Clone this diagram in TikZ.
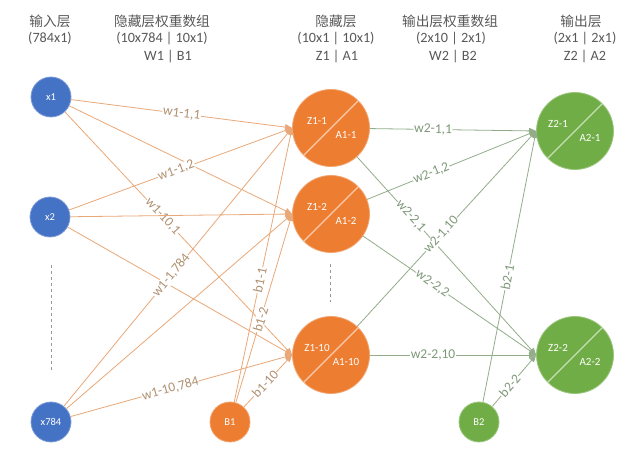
\documentclass[tikz,border=0pt]{standalone}
\usepackage{fontspec}
\setmainfont{Carlito}
\newfontfamily\cjk{Noto Sans CJK SC}
\usetikzlibrary{arrows.meta,calc}
\definecolor{cblue}{HTML}{4472C4}
\definecolor{corange}{HTML}{ED7D31}
\definecolor{cgreen}{HTML}{70AD47}
\definecolor{oline}{HTML}{E9A878}
\definecolor{gline}{HTML}{93AD8B}
\definecolor{otext}{HTML}{B09070}
\definecolor{gtext}{HTML}{7E9878}
\definecolor{odiag}{HTML}{F8CBAD}
\definecolor{gdiag}{HTML}{C5E0B4}
\definecolor{htext}{HTML}{595959}
\tikzset{
  inp/.style={circle,fill=cblue,draw=cblue!70!white,line width=0.8pt,minimum size=40pt,inner sep=0pt,text=white,font=\fontsize{10.5}{11}\selectfont},
  bias/.style={circle,fill=#1,draw=#1!70!white,line width=0.8pt,minimum size=40pt,inner sep=0pt,text=white,font=\fontsize{10.5}{11}\selectfont},
  neuron/.style={circle,fill=#1,draw=#1!70!white,line width=0.8pt,minimum size=77pt,inner sep=0pt},
  intxt/.style={text=white,font=\fontsize{11}{12}\selectfont,inner sep=0pt},
  odiagl/.style={draw=odiag,line width=1.3pt},
  gdiagl/.style={draw=gdiag,line width=1.3pt},
  oe/.style={draw=oline,line width=0.8pt,-{Triangle[length=7pt,width=6pt]}},
  ge/.style={draw=gline,line width=0.8pt,-{Triangle[length=7pt,width=6pt]}},
  olab/.style={fill=white,inner sep=0.6pt,text=otext,font=\fontsize{13.5}{14}\selectfont,sloped},
  glab/.style={fill=white,inner sep=0.6pt,text=gtext,font=\fontsize{13.5}{14}\selectfont,sloped},
  hcn/.style={text=htext,font=\cjk\fontsize{13.7}{15}\selectfont,inner sep=0pt},
  hlat/.style={text=htext,font=\fontsize{14.2}{15}\selectfont,inner sep=0pt},
  dots/.style={draw=gray!80,dashed,line width=0.8pt}
}
\begin{document}
\begin{tikzpicture}[x=1pt,y=-1pt]
\useasboundingbox[fill=white] (0,0) rectangle (641,457);
% headers
\node[hcn]  (h1a) at (50,21) {输入层};
\node[hlat] (h1b) at (50,38) {(784x1)};
\node[hcn]  (h2a) at (162,21) {隐藏层权重数组};
\node[hlat] (h2b) at (162,38) {(10x784 | 10x1)};
\node[hlat] (h2c) at (168,57) {W1 | B1};
\node[hcn]  (h3a) at (336,21) {隐藏层};
\node[hlat] (h3b) at (336,38) {(10x1 | 10x1)};
\node[hlat] (h3c) at (337,57) {Z1 | A1};
\node[hcn]  (h4a) at (450,21) {输出层权重数组};
\node[hlat] (h4b) at (451,38) {(2x10 | 2x1)};
\node[hlat] (h4c) at (453,57) {W2 | B2};
\node[hcn]  (h5a) at (581,21) {输出层};
\node[hlat] (h5b) at (585,38) {(2x1 | 2x1)};
\node[hlat] (h5c) at (585,57) {Z2 | A2};
% input nodes
\node[inp] (x1) at (51,97) {x1};
\node[inp] (x2) at (50,217) {x2};
\node[inp] (x784) at (51,422) {x784};
\coordinate (d1a) at (51,265); \coordinate (d1b) at (51,372);
\draw[dots] (d1a) -- (d1b);
% bias nodes
\node[bias=corange] (b1) at (230,422) {B1};
\node[bias=cgreen] (b2) at (479,422) {B2};
% hidden nodes
\node[neuron=corange] (z11) at (331,128) {};
\node[neuron=corange] (z12) at (331,214) {};
\node[neuron=corange] (z110) at (331,355) {};
\coordinate (d2a) at (330,264); \coordinate (d2b) at (330,302);
\draw[dots] (d2a) -- (d2b);
% output nodes
\node[neuron=cgreen] (z21) at (575,131) {};
\node[neuron=cgreen] (z22) at (575,355) {};
% diagonals and inner labels
\foreach \n/\a/\b in {z11/Z1-1/A1-1, z12/Z1-2/A1-2, z110/Z1-10/A1-10}{
  \draw[odiagl] (\n.225) -- (\n.45);
  \node[intxt] at ($(\n)+(-14,-7)$) {\a};
  \node[intxt] at ($(\n)+(15,7)$) {\b};
}
\foreach \n/\a/\b in {z21/Z2-1/A2-1, z22/Z2-2/A2-2}{
  \draw[gdiagl] (\n.225) -- (\n.45);
  \node[intxt] at ($(\n)+(-17,-7)$) {\a};
  \node[intxt] at ($(\n)+(15,7)$) {\b};
}
% layer 1 connectors
\draw[oe] (x1) -- (z11.west) node[olab,pos=0.5] {w1-1,1};
\draw[oe] (x1) -- (z12.west);
\draw[oe] (x1) -- (z110.west) node[olab,pos=0.43] {w1-10,1};
\draw[oe] (x2) -- (z11.west) node[olab,pos=0.48] {w1-1,2};
\draw[oe] (x2) -- (z12.west);
\draw[oe] (x2) -- (z110.west);
\draw[oe] (x784) -- (z11.west) node[olab,pos=0.47] {w1-1,784};
\draw[oe] (x784) -- (z12.west);
\draw[oe] (x784) -- (z110.west) node[olab,pos=0.45] {w1-10,784};
\draw[oe] (b1) -- (z11.west) node[olab,pos=0.445] {b1-1};
\draw[oe] (b1) -- (z12.west) node[olab,pos=0.44] {b1-2};
\draw[oe] (b1) -- (z110.west) node[olab,pos=0.44] {b1-10};
% layer 2 connectors
\draw[ge] (z11) -- (z21.west) node[glab,pos=0.38] {w2-1,1};
\draw[ge] (z12) -- (z21.west) node[glab,pos=0.38] {w2-1,2};
\draw[ge] (z11) -- (z22.west) node[glab,pos=0.3] {w2-2,1};
\draw[ge] (z110) -- (z21.west) node[glab,pos=0.47] {w2-1,10};
\draw[ge] (z12) -- (z22.west) node[glab,pos=0.4] {w2-2,2};
\draw[ge] (z110) -- (z22.west) node[glab,pos=0.38] {w2-2,10};
\draw[ge] (b2) -- (z21.west) node[glab,pos=0.46] {b2-1};
\draw[ge] (b2) -- (z22.west) node[glab,pos=0.4] {b2-2};
\end{tikzpicture}
\end{document}
